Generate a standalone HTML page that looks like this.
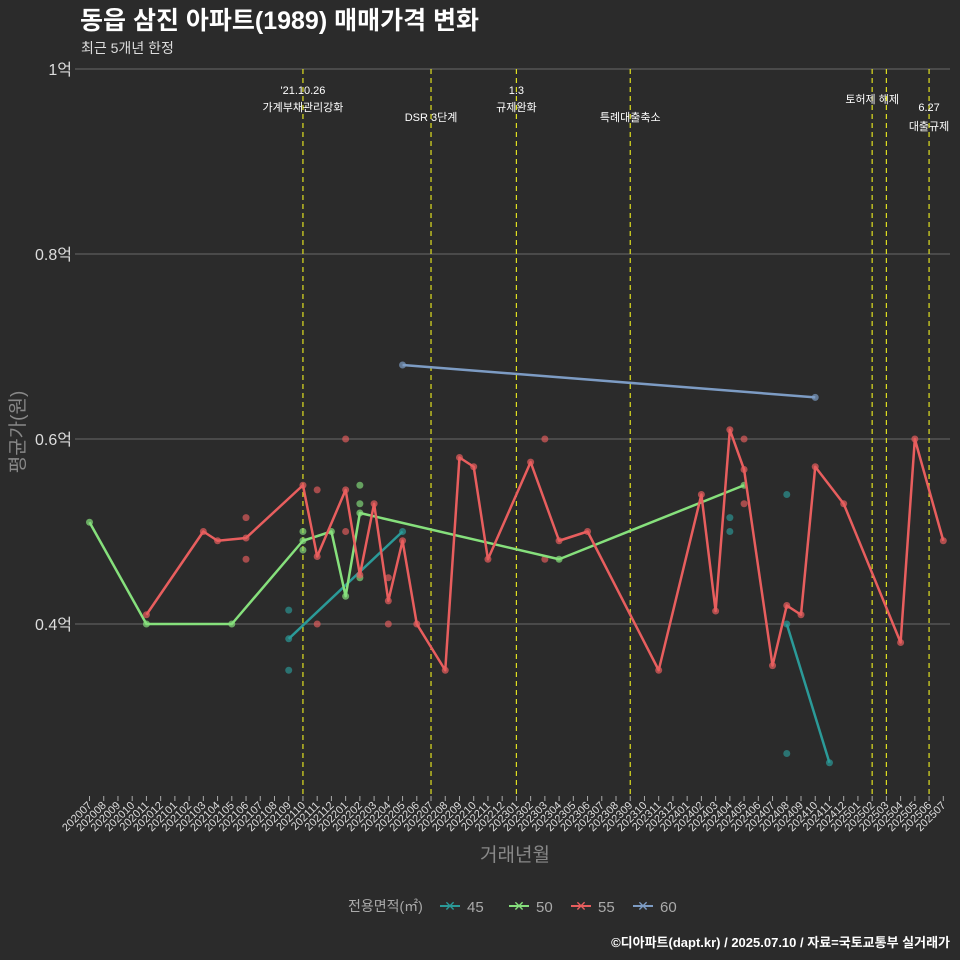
<!DOCTYPE html>
<html><head><meta charset="utf-8"><style>
body{margin:0;background:#2b2b2b;}
svg{display:block;font-family:"Liberation Sans","Noto Sans CJK KR",sans-serif;}
</style></head><body>
<svg id="c" width="960" height="960" viewBox="0 0 960 960">
<rect width="960" height="960" fill="#2b2b2b"/>
<text x="80" y="29" font-size="25" font-weight="bold" fill="#ffffff">동읍 삼진 아파트(1989) 매매가격 변화</text>
<text x="81" y="53" font-size="14" fill="#dddddd">최근 5개년 한정</text>
<text transform="translate(24,432) rotate(-90)" text-anchor="middle" font-size="19" fill="#888888">평균가(원)</text>
<text x="515" y="861" text-anchor="middle" font-size="19" fill="#888888">거래년월</text>
<g id="grid"></g><g id="vlines"></g><g id="marks"></g><g id="xaxis"></g>
<g font-size="15">
<text x="348" y="911" fill="#aaaaaa" font-size="14">전용면적(㎡)</text>
<g id="legend"></g>
</g>
<text x="950" y="947" text-anchor="end" font-size="13" font-weight="bold" fill="#ffffff">©디아파트(dapt.kr) / 2025.07.10 / 자료=국토교통부 실거래가</text>
</svg>
<script>
const months=[];for(let y=2020,m=7;months.length<61;){months.push(y+String(m).padStart(2,'0'));m++;if(m>12){m=1;y++;}}
const yTicks=[0.4,0.6,0.8,1.0];
const yTickLabels=["0.4억","0.6억","0.8억","1억"];
const s45Months=["202109","202205",null,"202408","202411"];
const s45Values=[0.384,0.50,null,0.40,0.25];
const s50Months=["202007","202011","202105","202110","202112","202201","202202","202304","202405"];
const s50Values=[0.51,0.40,0.40,0.49,0.50,0.43,0.52,0.47,0.55];
const s55Months=["202011","202103","202104","202106","202110","202111","202201","202202","202203","202204","202205","202206","202208","202209","202210","202211","202302","202304","202306","202311","202402","202403","202404","202405","202407","202408","202409","202410","202412","202504","202505","202507"];
const s55Values=[0.41,0.50,0.49,0.493,0.55,0.473,0.545,0.453,0.53,0.425,0.49,0.40,0.35,0.58,0.57,0.47,0.575,0.49,0.50,0.35,0.54,0.414,0.61,0.567,0.355,0.42,0.41,0.57,0.53,0.38,0.60,0.49];
const s60Months=["202205","202410"];
const s60Values=[0.68,0.645];
const dots45Months=["202109","202109","202408","202404","202404","202408"];
const dots45Values=[0.415,0.35,0.54,0.515,0.50,0.26];
const dots50Months=["202110","202110","202202","202202","202202"];
const dots50Values=[0.50,0.48,0.55,0.53,0.45];
const dots55Months=["202106","202106","202111","202111","202201","202201","202204","202204","202303","202303","202405","202405"];
const dots55Values=[0.515,0.47,0.545,0.40,0.60,0.50,0.45,0.40,0.60,0.47,0.60,0.53];
const eventMonths=["202110","202207","202301","202309","202502","202503","202506"];
const eventLabels=[["'21.10.26","가계부채관리강화"],["","DSR 3단계"],["1.3","규제완화"],["","특례대출축소"],["토허제 해제",""],["",""],["6.27","대출규제"]];
const eventY=[[94,111],[0,121],[94,111],[0,121],[103,0],[0,0],[111,130]];
const colors={"45":"#2b9a98","50":"#86e07c","55":"#e85e5e","60":"#7d9cc4"};
const NS="http://www.w3.org/2000/svg";
const X=m=>89.5+14.23*months.indexOf(m);
const Y=v=>624-(v-0.4)*925;
function el(t,a,p){const e=document.createElementNS(NS,t);for(const k in a)e.setAttribute(k,a[k]);document.getElementById(p).appendChild(e);return e;}
yTicks.forEach((v,i)=>{
 const l=el('line',{x1:75,x2:950,y1:Y(v),y2:Y(v),stroke:'#5e5e5e','stroke-width':1.2},'grid');
 
 
 const t=el('text',{x:72,y:Y(v)+6,'text-anchor':'end','font-size':16,fill:'#dddddd'},'grid');
 t.textContent=yTickLabels[i];
 
 
});
eventMonths.forEach((m,i)=>{
 const l=el('line',{x1:X(m),x2:X(m),y1:69,y2:795,stroke:'#e0e020','stroke-width':1.2,'stroke-dasharray':'5,4'},'vlines');
 
 
 eventLabels[i].forEach((s,j)=>{if(!s)return;
  const t=el('text',{x:X(m),y:eventY[i][j],'text-anchor':'middle','font-size':11,fill:'#ffffff'},'vlines');
  t.textContent=s;
  
  
 });
});
function series(ms,vs,c,name){
 let d='',pen=false;
 ms.forEach((m,i)=>{if(m===null){pen=false;return;}d+=(pen?'L':'M')+X(m)+','+Y(vs[i]);pen=true;});
 const p=el('path',{d:d,fill:'none',stroke:c,'stroke-width':2.5,'stroke-linejoin':'round'},'marks');
 
 
 ms.forEach((m,i)=>{if(m===null)return;
  const ci=el('circle',{cx:X(m),cy:Y(vs[i]),r:3.5,fill:c,opacity:0.7},'marks');
  
  
 });
}
function dots(ms,vs,c,name){ms.forEach((m,i)=>{
 const ci=el('circle',{cx:X(m),cy:Y(vs[i]),r:3.5,fill:c,opacity:0.65},'marks');
 
 
});}
dots(dots45Months,dots45Values,colors["45"],'45');
dots(dots50Months,dots50Values,colors["50"],'50');
dots(dots55Months,dots55Values,colors["55"],'55');
series(s45Months,s45Values,colors["45"],'45');
series(s50Months,s50Values,colors["50"],'50');
series(s55Months,s55Values,colors["55"],'55');
series(s60Months,s60Values,colors["60"],'60');
months.forEach(m=>{
 const x=X(m);
 const tk=el('line',{x1:x,x2:x,y1:796,y2:801,stroke:'#aaaaaa'},'xaxis');
 
 
 const t=el('text',{transform:`translate(${x+3},${806}) rotate(-45)`,'text-anchor':'end','font-size':11,fill:'#dddddd'},'xaxis');
 t.textContent=m;
 
 
});
const legendItems=["45","50","55","60"];const lx=[440,509,571,633];
legendItems.forEach((k,i)=>{
 const g=el('g',{},'legend');
 
 
 const x=lx[i];
 const ln=document.createElementNS(NS,'line');
 ln.setAttribute('x1',x);ln.setAttribute('x2',x+20);ln.setAttribute('y1',906);ln.setAttribute('y2',906);ln.setAttribute('stroke',colors[k]);ln.setAttribute('stroke-width',2);g.appendChild(ln);
 const c=document.createElementNS(NS,'text');c.setAttribute('x',x+10);c.setAttribute('y',911);c.setAttribute('text-anchor','middle');c.setAttribute('fill',colors[k]);c.setAttribute('font-size',14);c.textContent='✕';g.appendChild(c);
 const t=document.createElementNS(NS,'text');t.setAttribute('x',x+27);t.setAttribute('y',912);t.setAttribute('fill','#aaaaaa');t.setAttribute('font-size',15);t.textContent=k;g.appendChild(t);
});
</script>
</body></html>
